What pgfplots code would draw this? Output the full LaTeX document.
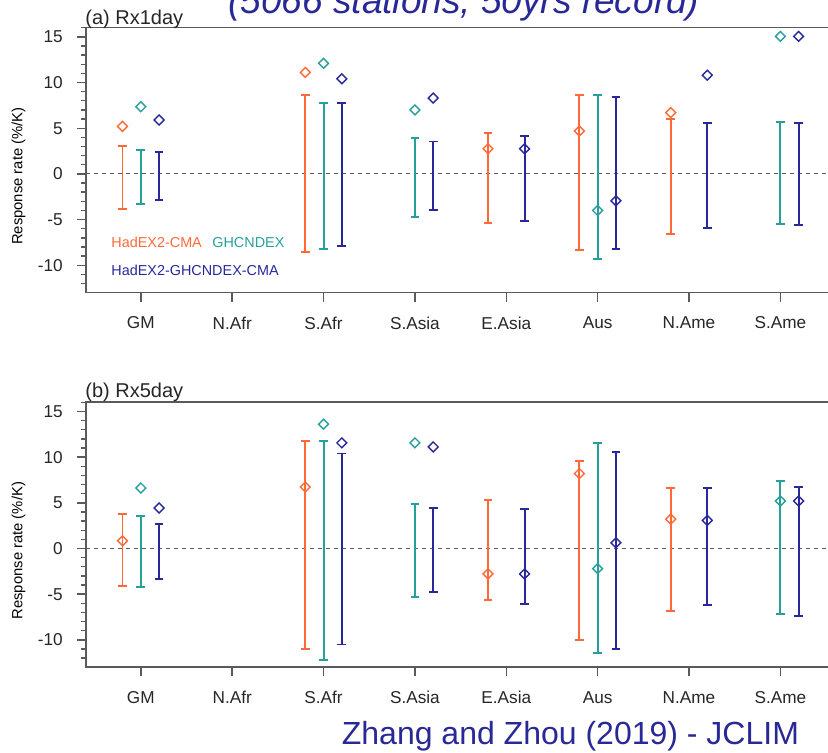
\documentclass[border=0pt]{standalone}
\usepackage{fontspec}
\setmainfont{Liberation Sans}
\usepackage{pgfplots}
\usepackage{pgfplotstable}
\pgfplotsset{compat=1.18}

\definecolor{cOra}{RGB}{255,105,55}
\definecolor{cTea}{RGB}{38,160,155}
\definecolor{cBlu}{RGB}{40,40,155}
\definecolor{cTxt}{RGB}{40,40,150}
\definecolor{axgray}{RGB}{90,90,90}

% x lo hi mean  (Rx1day)
\pgfplotstableread{
x   lo     hi    mean
0.8 -3.80  3.10  5.20
2.8 -8.50  8.60  11.10
4.8 -5.35  4.50  2.75
5.8 -8.35  8.60  4.70
6.8 -6.55  6.05  6.70
}\oraA
\pgfplotstableread{
x   lo     hi    mean
1.0 -3.30  2.60  7.35
3.0 -8.20  7.80  12.10
4.0 -4.75  3.90  7.00
6.0 -9.35  8.60  -4.00
8.0 -5.50  5.70  15.05
}\teaA
\pgfplotstableread{
x   lo     hi    mean
1.2 -2.90  2.35  5.90
3.2 -7.90  7.80  10.40
4.2 -4.00  3.55  8.30
5.2 -5.20  4.10  2.75
6.2 -8.25  8.40  -2.95
7.2 -5.95  5.60  10.80
8.2 -5.60  5.55  15.05
}\bluA
% Rx5day
\pgfplotstableread{
x   lo      hi     mean
0.8 -4.13   3.77   0.84
2.8 -11.00  11.80  6.73
4.8 -5.60   5.34   -2.78
5.8 -10.00  9.59   8.20
6.8 -6.80   6.62   3.22
}\oraB
\pgfplotstableread{
x   lo      hi     mean
1.0 -4.17   3.55   6.62
3.0 -12.20  11.80  13.60
4.0 -5.27   4.90   11.56
6.0 -11.46  11.56  -2.20
8.0 -7.18   7.39   5.20
}\teaB
\pgfplotstableread{
x   lo      hi     mean
1.2 -3.37   2.67   4.43
3.2 -10.50  10.40  11.56
4.2 -4.80   4.40   11.12
5.2 -6.04   4.35   -2.78
6.2 -10.95  10.60  0.62
7.2 -6.22   6.62   3.07
8.2 -7.43   6.73   5.20
}\bluB

\pgfplotsset{
  panel/.style={
    scale only axis, width=374.6pt, height=132.5pt,
    xmin=0.4, xmax=8.6, ymin=-13, ymax=16,
    axis line style={draw=axgray, line width=0.8pt},
    every tick/.style={draw=axgray, line width=0.7pt},
    tick pos=left, tick align=outside,
    major tick length=4.5pt, minor tick length=2.5pt,
    xtick={1,...,8},
    xticklabels={GM,N.Afr,S.Afr,S.Asia,E.Asia,Aus,N.Ame,S.Ame},
    ytick={-10,-5,0,5,10,15}, yticklabels={-10,-5,0,5,10,15},
    minor ytick={-12,...,16},
    tick label style={font=\fontsize{8.6}{10}\selectfont, text=black!85},
    xticklabel style={yshift=-4pt},
    yticklabel style={xshift=-3.6pt},
    ylabel={Response rate (\%/K)},
    every axis y label/.style={at={(axis description cs:-0.09,0.44)},
      anchor=center, rotate=90, font=\fontsize{7.4}{9}\selectfont},
    clip=false,
  },
  % range bar: drawn as an error bar around the centre of [lo,hi]
  ebar/.style={draw=none, mark=none, forget plot,
    error bars/.cd, y dir=both, y explicit, error mark=-,
    error bar style={draw=#1, solid, line width=0.95pt},
    error mark options={rotate=90, draw=#1, line width=0.95pt, mark size=2.2pt}},
  mn/.style={only marks, mark=square, mark size=1.75pt,
    mark options={rotate=45, line width=0.7pt}},
  zero/.style={axgray, line width=0.6pt, dash pattern=on 2pt off 2pt},
}

\begin{document}
\begin{tikzpicture}
\begin{axis}[panel, at={(43pt,230.15pt)}, anchor=south west]
\addplot[zero] coordinates {(0.4,0) (8.6,0)};
\addplot[ebar=cOra] table[x=x, y expr={(\thisrow{lo}+\thisrow{hi})/2}, y error expr={(\thisrow{hi}-\thisrow{lo})/2}] {\oraA};
\addplot[ebar=cTea] table[x=x, y expr={(\thisrow{lo}+\thisrow{hi})/2}, y error expr={(\thisrow{hi}-\thisrow{lo})/2}] {\teaA};
\addplot[ebar=cBlu] table[x=x, y expr={(\thisrow{lo}+\thisrow{hi})/2}, y error expr={(\thisrow{hi}-\thisrow{lo})/2}] {\bluA};
\addplot[cOra, mn] table[x=x, y=mean] {\oraA};
\addplot[cTea, mn] table[x=x, y=mean] {\teaA};
\addplot[cBlu, mn] table[x=x, y=mean] {\bluA};
\node[anchor=base west, inner sep=0, font=\fontsize{10}{12}\selectfont, text=black!85]
  at ([xshift=-0.5pt, yshift=1.8pt]rel axis cs:0,1) {(a) Rx1day};
\node[anchor=west, inner sep=0, font=\fontsize{7.2}{9}\selectfont, text=cOra] at (axis cs:0.674,-7.5) {HadEX2-CMA};
\node[anchor=west, inner sep=0, font=\fontsize{7.2}{9}\selectfont, text=cTea] at (axis cs:1.779,-7.5) {GHCNDEX};
\node[anchor=west, inner sep=0, font=\fontsize{7.2}{9}\selectfont, text=cBlu] at (axis cs:0.674,-10.55) {HadEX2-GHCNDEX-CMA};
\end{axis}

\begin{axis}[panel, at={(43pt,42.85pt)}, anchor=south west]
\addplot[zero] coordinates {(0.4,0) (8.6,0)};
\addplot[ebar=cOra] table[x=x, y expr={(\thisrow{lo}+\thisrow{hi})/2}, y error expr={(\thisrow{hi}-\thisrow{lo})/2}] {\oraB};
\addplot[ebar=cTea] table[x=x, y expr={(\thisrow{lo}+\thisrow{hi})/2}, y error expr={(\thisrow{hi}-\thisrow{lo})/2}] {\teaB};
\addplot[ebar=cBlu] table[x=x, y expr={(\thisrow{lo}+\thisrow{hi})/2}, y error expr={(\thisrow{hi}-\thisrow{lo})/2}] {\bluB};
\addplot[cOra, mn] table[x=x, y=mean] {\oraB};
\addplot[cTea, mn] table[x=x, y=mean] {\teaB};
\addplot[cBlu, mn] table[x=x, y=mean] {\bluB};
\node[anchor=base west, inner sep=0, font=\fontsize{10}{12}\selectfont, text=black!85]
  at ([xshift=-0.5pt, yshift=2.2pt]rel axis cs:0,1) {(b) Rx5day};
\end{axis}

\node[anchor=base west, inner sep=0, text=cTxt, font=\fontsize{18.5}{20}\itshape]
  at (114pt,369.5pt) {(5066 stations, 50yrs record)};
\node[anchor=base east, inner sep=0, text=cTxt, font=\fontsize{16}{18}\selectfont]
  at (399.7pt,4pt) {Zhang and Zhou (2019) - JCLIM};

\pgfresetboundingbox
\useasboundingbox (0,0) rectangle (414pt,376.5pt);
\end{tikzpicture}
\end{document}
